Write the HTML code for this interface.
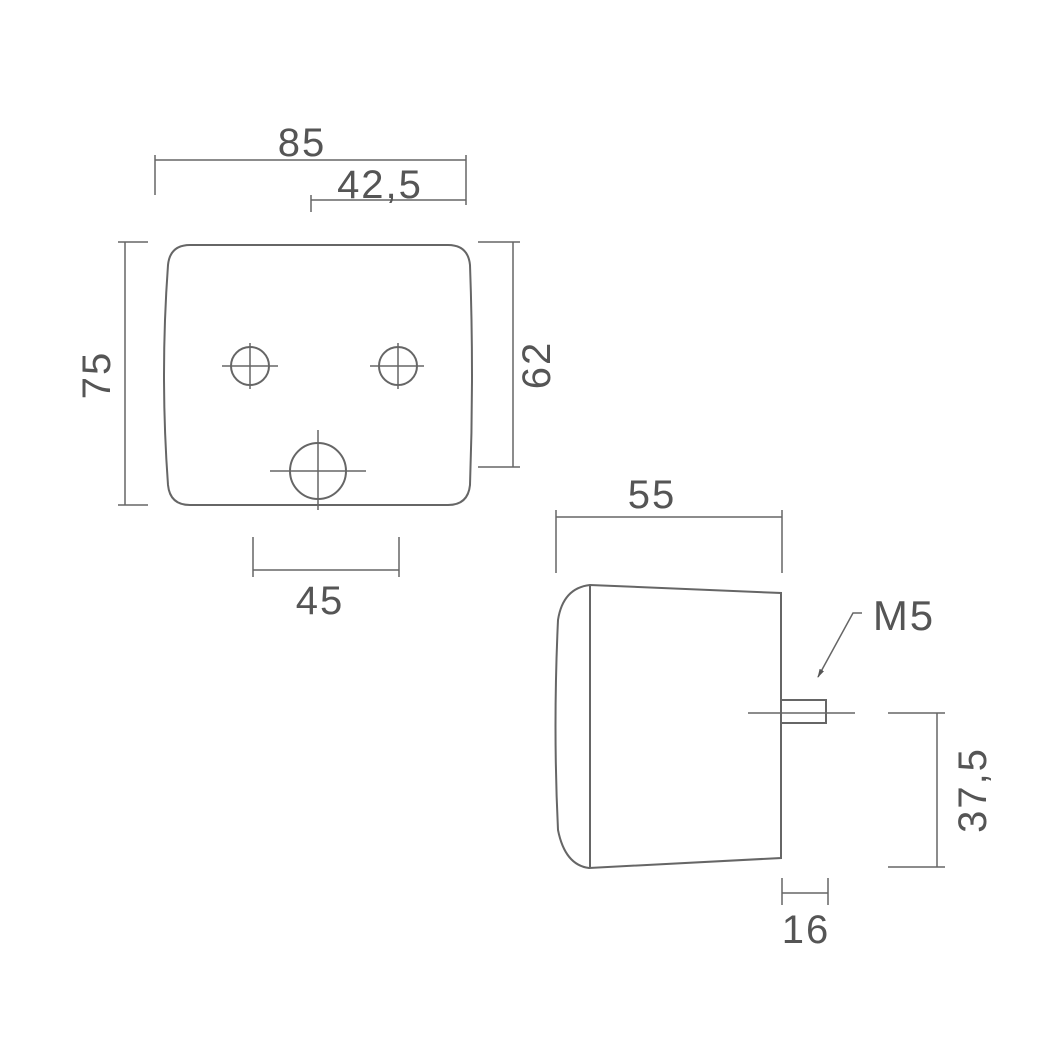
<!DOCTYPE html>
<html><head><meta charset="utf-8"><style>html,body{margin:0;background:#fff}</style></head>
<body>
<svg width="1059" height="1057" viewBox="0 0 1059 1057" xmlns="http://www.w3.org/2000/svg">
<defs><marker id="a" markerWidth="9" markerHeight="8" refX="8" refY="4" orient="auto" markerUnits="userSpaceOnUse"><path d="M0,1.5 L9,4 L0,6.5z" fill="#555"/></marker></defs>
<g stroke="#666" stroke-width="2" fill="none">
<path d="M190,245 L448,245 Q468,245 470,265 Q474,375 470,485 Q468,505 448,505 L190,505 Q170,505 168,485 Q160,375 168,265 Q170,245 190,245 Z"/>
<circle cx="250" cy="366" r="19"/><circle cx="398" cy="366" r="19"/><circle cx="318" cy="471" r="28"/>
</g>
<g stroke="#666" stroke-width="1.5" fill="none">
<path d="M222,366H278M250,343V389M370,366H424M398,343V389M270,471H366M318,430V510"/>
<path d="M155,155V195M466,155V205M155,160H466M311,195V212M311,200H466"/>
<path d="M118,242H148M118,505H148M125,242V505"/>
<path d="M478,242H520M478,467H520M513,242V467"/>
<path d="M253,537V577M399,537V577M253,570H399"/>
<path d="M556,510V573M782,510V573M556,517H782"/>
<path d="M888,713H945M888,867H945M937,713V867"/>
<path d="M782,878V905M828,878V905M782,893H828"/>
<path d="M862,613H853L818,677" marker-end="url(#a)"/>
<path d="M748,713H855"/>
</g>
<g stroke="#666" stroke-width="2" fill="none">
<path d="M590,585L781,593L781,858L589,868Q565,865 558,830Q553,727 558,620Q563,588 590,585Z"/>
<path d="M590,585V868"/>
<rect x="781" y="700" width="45" height="23"/>
</g>
<g font-family="Liberation Sans, sans-serif" font-size="40" fill="#555" text-anchor="middle" letter-spacing="2">
<text x="302" y="156">85</text>
<text x="380" y="198">42,5</text>
<text x="320" y="614">45</text>
<text x="652" y="508">55</text>
<text x="904" y="630" font-size="42">M5</text>
<text x="806" y="943">16</text>
<text transform="translate(110,375) rotate(-90)">75</text>
<text transform="translate(550,365) rotate(-90)">62</text>
<text transform="translate(986,790) rotate(-90)">37,5</text>
</g>
</svg>
</body></html>
